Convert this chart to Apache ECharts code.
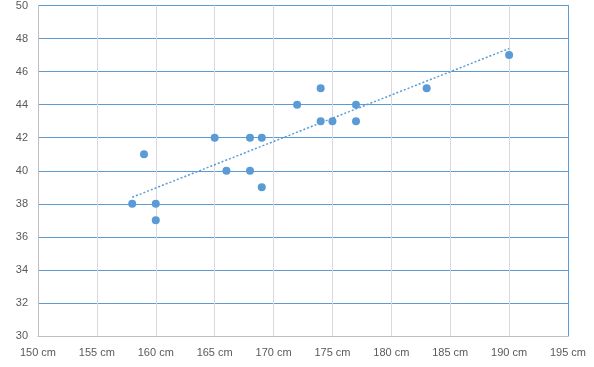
<!DOCTYPE html>
<html><head><meta charset="utf-8">
<script src="https://cdn.jsdelivr.net/npm/echarts@6/dist/echarts.min.js"></script>
<style>html,body{margin:0;padding:0;background:#fff}#c{width:594px;height:367px}</style>
</head><body><div id="c"></div>
<script>
var heights = [158,159,160,160,165,166,168,168,169,169,172,174,174,175,177,177,183,190];
var values  = [38, 41, 38, 37, 42, 40, 42, 40, 42, 39, 44, 45, 43, 43, 44, 43, 45, 47];
var xTicks = [150,155,160,165,170,175,180,185,190,195];
var yTicks = [30,32,34,36,38,40,42,44,46,48,50];

var pts = heights.map(function(h,i){return [h, values[i]];});
// least-squares trendline computed from the data
var n = heights.length, sx=0, sy=0, sxy=0, sxx=0;
for (var i=0;i<n;i++){sx+=heights[i];sy+=values[i];sxy+=heights[i]*values[i];sxx+=heights[i]*heights[i];}
var slope = (n*sxy - sx*sy)/(n*sxx - sx*sx);
var icpt = (sy - slope*sx)/n;
var xmin = Math.min.apply(null, heights), xmax = Math.max.apply(null, heights);
var trend = [[xmin, icpt+slope*xmin],[xmax, icpt+slope*xmax]];

var font = 'Liberation Sans';
var chart = echarts.init(document.getElementById('c'));
chart.setOption({
  animation:false,
  grid:{left:38,right:26,top:5,bottom:31,containLabel:false},
  xAxis:{type:'value',min:xTicks[0],max:xTicks[xTicks.length-1],interval:5,
    axisLine:{show:true,lineStyle:{color:'#bfbfbf',width:1}},
    axisTick:{show:false},
    splitLine:{show:true,lineStyle:{color:'#d9d9d9',width:1}},
    axisLabel:{formatter:function(v){return v+' cm';},color:'#595959',fontFamily:font,fontSize:11,margin:11}},
  yAxis:[{type:'value',min:yTicks[0],max:yTicks[yTicks.length-1],interval:2,
    axisLine:{show:true,lineStyle:{color:'#bfbfbf',width:1}},
    axisTick:{show:false},
    splitLine:{show:true,lineStyle:{color:'#5b9bd5',width:1}},
    axisLabel:{color:'#595959',fontFamily:font,fontSize:11,margin:10}},
   {type:'value',position:'right',min:yTicks[0],max:yTicks[yTicks.length-1],interval:2,
    axisLine:{show:true,lineStyle:{color:'#5b9bd5',width:1}},
    axisTick:{show:false},axisLabel:{show:false},splitLine:{show:false}}],
  series:[
   {type:'scatter',data:pts,symbolSize:8,itemStyle:{color:'#5b9bd5',opacity:1},z:3},
   {type:'line',data:trend,showSymbol:false,symbol:'none',
    lineStyle:{type:[2,2],width:1.5,color:'#5b9bd5'},z:2}
  ]
});
</script></body></html>
